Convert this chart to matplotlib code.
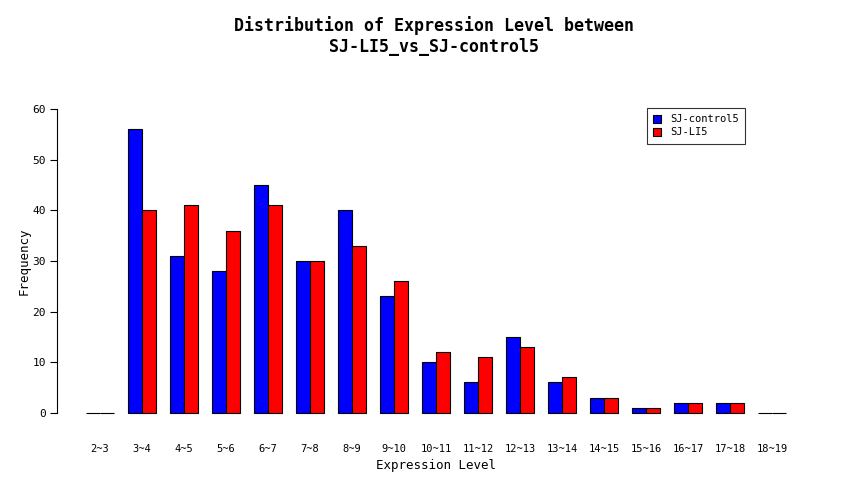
import numpy as np
import matplotlib
matplotlib.use('Agg')
import matplotlib.pyplot as plt

# expression level bins and counts
bins = ['2~3', '3~4', '4~5', '5~6', '6~7', '7~8', '8~9', '9~10', '10~11',
        '11~12', '12~13', '13~14', '14~15', '15~16', '16~17', '17~18', '18~19']
control5 = [0, 56, 31, 28, 45, 30, 40, 23, 10, 6, 15, 6, 3, 1, 2, 2, 0]
li5 = [0, 40, 41, 36, 41, 30, 33, 26, 12, 11, 13, 7, 3, 1, 2, 2, 0]
y_ticks = [0, 10, 20, 30, 40, 50, 60]

plt.rcParams['font.family'] = ['DejaVu Sans Mono']

fig = plt.figure(figsize=(8.5, 5), dpi=100)
ax = fig.add_axes([0.067, 0.15, 0.891, 0.656])

# R-style beside barplot: each group 2 bars wide, 1 bar gap in front
start = 1 + 3 * np.arange(len(bins))
ax.bar(start, control5, width=1, align='edge', color='#0000ff',
       edgecolor='black', linewidth=0.8, label='SJ-control5')
ax.bar(start + 1, li5, width=1, align='edge', color='#ff0000',
       edgecolor='black', linewidth=0.8, label='SJ-LI5')

ax.set_xlim(-1.07, 53)
ax.set_ylim(-2.4, 62.4)

for s in ['top', 'right', 'bottom']:
    ax.spines[s].set_visible(False)
ax.spines['left'].set_bounds(0, 60)
ax.spines['left'].set_linewidth(0.8)

ax.set_yticks(y_ticks)
ax.tick_params(axis='y', length=5, width=0.8, labelsize=8, pad=3)
ax.set_xticks(start + 1)
ax.set_xticklabels(bins)
ax.tick_params(axis='x', length=0, labelsize=7.5, pad=14)

ax.set_xlabel('Expression Level', fontsize=9, labelpad=3)
ax.set_ylabel('Frequency', fontsize=9, labelpad=1)

fig.text(0.51, 0.928, 'Distribution of Expression Level between\nSJ-LI5_vs_SJ-control5',
         ha='center', va='center', fontsize=12, fontweight='bold', linespacing=1.2)

leg = ax.legend(loc='upper left', bbox_to_anchor=(0.761, 0.784), bbox_transform=fig.transFigure,
                fontsize=7.5, frameon=True, fancybox=False, edgecolor='black',
                handlelength=0.8, handleheight=0.8, handletextpad=0.8,
                borderpad=0.6, labelspacing=0.3, borderaxespad=0)
leg.get_frame().set_linewidth(0.8)

plt.savefig('out.png', dpi=100)
